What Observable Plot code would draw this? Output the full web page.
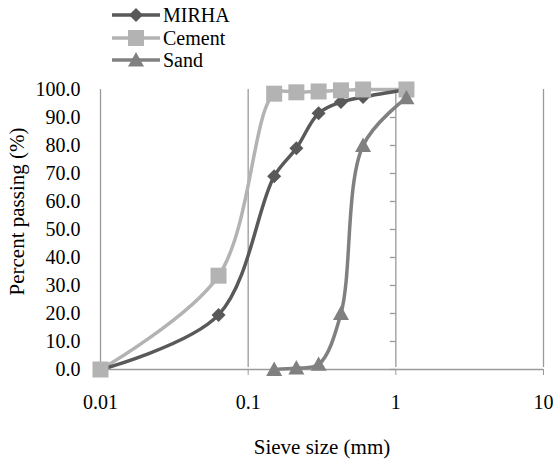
<!DOCTYPE html>
<html>
<head>
<meta charset="utf-8">
<script src="https://cdn.jsdelivr.net/npm/d3@7"></script>
<script src="https://cdn.jsdelivr.net/npm/@observablehq/plot@0.6"></script>
<style>
  html, body { margin: 0; padding: 0; background: white; }
  #wrap { position: relative; width: 554px; height: 462px; font-family: "Liberation Serif", "Times New Roman", serif; }
  #legend { position: absolute; left: 0; top: 0; }
  .row { position: absolute; left: 112px; height: 22px; display: flex; align-items: center; font-size: 20px; color: #000; white-space: nowrap; }
  .row svg { margin-right: 3px; }
</style>
</head>
<body>
<div id="wrap">
  <div id="chart"></div>
  <div id="legend"></div>
</div>
<script>
// ---- data ----
const seriesNames = ["MIRHA", "Cement", "Sand"];
const mirhaSize = [0.01, 0.063, 0.15, 0.212, 0.3, 0.425, 0.6, 1.18];
const mirhaPass = [0, 19.5, 69, 79, 91.5, 95.5, 97.3, 100];
const cementSize = [0.01, 0.063, 0.15, 0.212, 0.3, 0.425, 0.6, 1.18];
const cementPass = [0, 33.5, 98.5, 99, 99.3, 99.7, 100, 100];
const sandSize = [0.15, 0.212, 0.3, 0.425, 0.6, 1.18];
const sandPass = [0, 0.5, 1.8, 20, 80, 97];
const xTicks = [0.01, 0.1, 1, 10];
const yTicks = [0, 10, 20, 30, 40, 50, 60, 70, 80, 90, 100];
const xLabel = "Sieve size (mm)";
const yLabel = "Percent passing (%)";

const colors = { MIRHA: "#595959", Cement: "#b3b3b3", Sand: "#808080" };
const gridColor = "#9a9a9a";

// custom marker symbols (r = sqrt(size/PI))
const squareSym = { draw(ctx, size) { const r = Math.sqrt(size / Math.PI); ctx.rect(-r, -r, 2 * r, 2 * r); } };
const diamondSym = { draw(ctx, size) { const r = Math.sqrt(size / Math.PI); ctx.moveTo(0, -r); ctx.lineTo(r, 0); ctx.lineTo(0, r); ctx.lineTo(-r, 0); ctx.closePath(); } };
const triangleSym = { draw(ctx, size) { const r = Math.sqrt(size / Math.PI); ctx.moveTo(0, -r); ctx.lineTo(r, r * 0.8); ctx.lineTo(-r, r * 0.8); ctx.closePath(); } };
const leftTick = { draw(ctx) { ctx.moveTo(-6, 0); ctx.lineTo(0, 0); } };

const mk = (name, xs, ys) => xs.map((x, i) => ({ series: name, size: x, pass: ys[i] }));
const mirha = mk("MIRHA", mirhaSize, mirhaPass);
const cement = mk("Cement", cementSize, cementPass);
const sand = mk("Sand", sandSize, sandPass);

const lineOpts = (c) => ({ x: "size", y: "pass", stroke: c, strokeWidth: 3.5, curve: "catmull-rom" });

const chart = Plot.plot({
  width: 554,
  height: 462,
  marginLeft: 100,
  marginRight: 11,
  marginTop: 89,
  marginBottom: 93,
  x: { type: "log", domain: [0.01, 10] },
  y: { domain: [0, 100] },
  style: { fontFamily: "'Liberation Serif', 'Times New Roman', serif", fontSize: "20px", color: "#000", background: "white" },
  marks: [
    Plot.ruleX(xTicks, { stroke: gridColor, strokeWidth: 1.3, y1: 0, y2: 100, insetTop: -2 }),
    Plot.ruleY([0], { stroke: gridColor, strokeWidth: 1.3 }),
    Plot.dot(yTicks, { x: () => 1, y: (d) => d, symbol: leftTick, r: 3, stroke: gridColor, strokeWidth: 1.3, fill: "none" }),
    Plot.axisX({ ticks: xTicks, tickSize: 6, tickPadding: 19, tickFormat: (d) => String(d), label: null, stroke: gridColor, fill: "#000" }),
    Plot.axisY({ ticks: yTicks, tickSize: 0, tickPadding: 20, tickFormat: (d) => d.toFixed(1), label: null, fill: "#000" }),
    Plot.line(cement, lineOpts(colors.Cement)),
    Plot.line(mirha, lineOpts(colors.MIRHA)),
    Plot.line(sand, lineOpts(colors.Sand)),
    Plot.dot(mirha, { x: "size", y: "pass", symbol: diamondSym, r: 7, fill: colors.MIRHA, stroke: "none" }),
    Plot.dot(cement, { x: "size", y: "pass", symbol: squareSym, r: 8, fill: colors.Cement, stroke: "none" }),
    Plot.dot(sand, { x: "size", y: "pass", symbol: triangleSym, r: 8, fill: colors.Sand, stroke: "none" }),
    Plot.text([xLabel], { frameAnchor: "bottom", dy: 84, text: (d) => d, fill: "#000", fontSize: 21 }),
    Plot.text([yLabel], { frameAnchor: "left", textAnchor: "middle", lineAnchor: "middle", dx: -83, dy: -18, rotate: -90, text: (d) => d, fill: "#000", fontSize: 21 })
  ]
});
document.getElementById("chart").appendChild(chart);

// ---- legend ----
const legend = document.getElementById("legend");
const symbolPaths = {
  MIRHA: "M24,4 L31,11 L24,18 L17,11 Z",
  Cement: "M16,3 h16 v16 h-16 Z",
  Sand: "M24,3 L32,17.4 L16,17.4 Z"
};
const rowTops = [4, 27, 49];
seriesNames.forEach((name, i) => {
  const row = document.createElement("div");
  row.className = "row";
  row.style.top = rowTops[i] + "px";
  row.innerHTML = `<svg width="48" height="22"><line x1="0" x2="48" y1="11" y2="11" stroke="${colors[name]}" stroke-width="3.5"/><path d="${symbolPaths[name]}" fill="${colors[name]}"/></svg><span>${name}</span>`;
  legend.appendChild(row);
});
</script>
</body>
</html>
